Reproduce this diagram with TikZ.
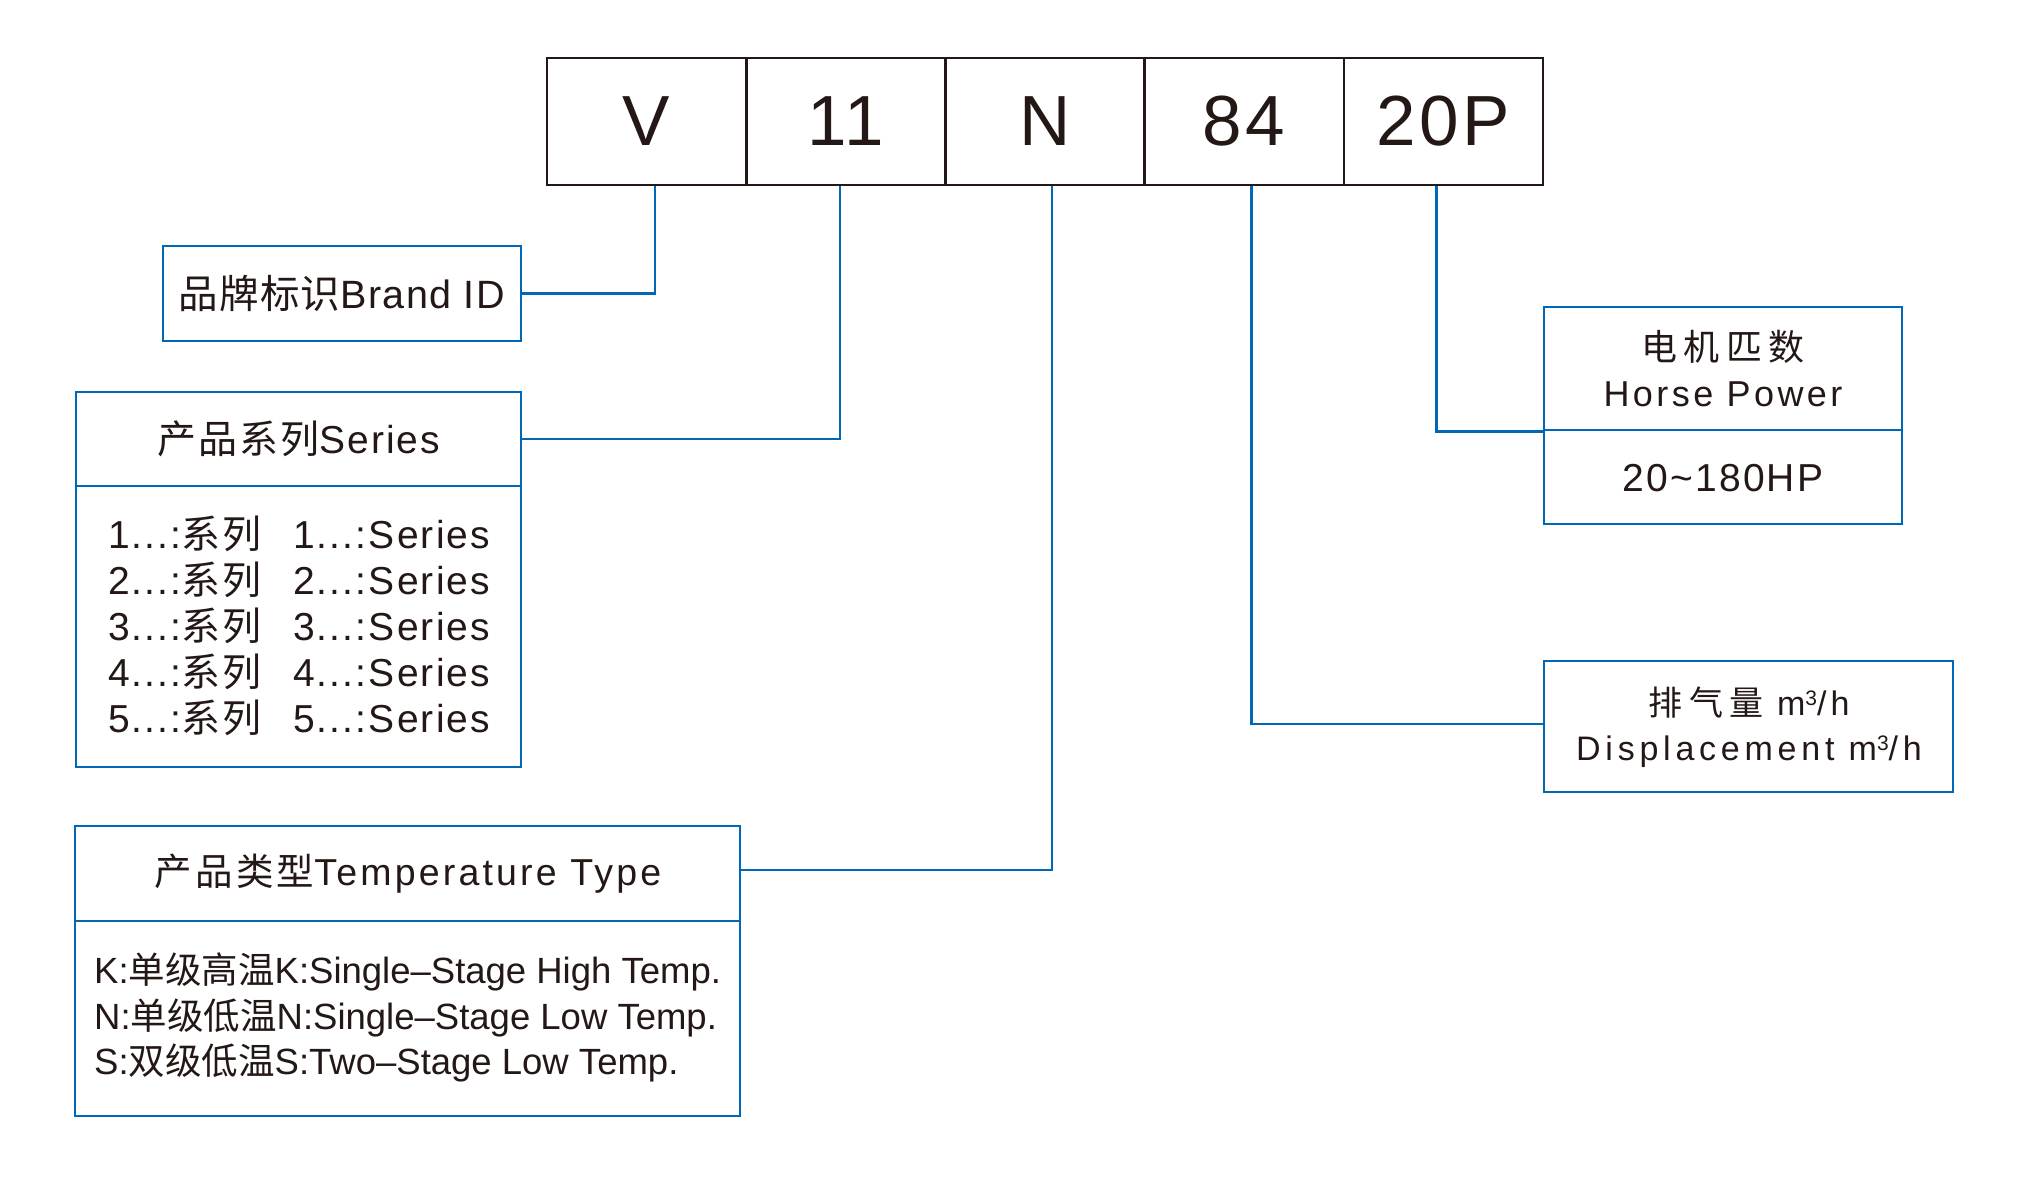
\documentclass[tikz,border=0pt]{standalone}
\usepackage{fontspec}
\setmainfont{Liberation Sans}
\newfontfamily\cjk{Noto Sans CJK SC}
\definecolor{lineblue}{RGB}{0,104,183}
\definecolor{ink}{RGB}{35,24,21}
\newcommand\fsz[1]{\fontsize{#1}{#1}\selectfont}
\newcommand\lsp[1]{\addfontfeatures{LetterSpace=#1}}
\newcommand\zh[2]{{\cjk\lsp{#1}#2}}
\newcommand\cubed{\raisebox{10pt}{\fsz{21}3}}
\begin{document}
\begin{tikzpicture}[x=1pt,y=-1pt,
  codebox/.style={draw=ink, line width=2.6pt, minimum width=199.2pt, minimum height=127pt, inner sep=0pt, text=ink, font=\fsz{71}\lsp{5}},
  bluebox/.style={draw=lineblue, line width=2.6pt, inner sep=0pt},
  conn/.style={draw=lineblue, line width=2.6pt},
  txt/.style={text=ink, inner sep=0pt, anchor=base},
  txtl/.style={text=ink, inner sep=0pt, anchor=base west},
]
\useasboundingbox (0,0) rectangle (2042,1180);

% code boxes
\node[codebox] (cV)  at (646.6,121.5)  {V};
\node[codebox] (c11) at (845.8,121.5)  {11};
\node[codebox] (cN)  at (1045.0,121.5) {N};
\node[codebox] (c84) at (1244.2,121.5) {84};
\node[codebox] (c20) at (1443.4,121.5) {20P};

% brand
\node[bluebox, minimum width=358pt, minimum height=95pt] (brand) at (342,293.5) {};
\node[txt] (brandtxt) at (341.5,308) {\fsz{39.5}\lsp{3.5}\zh{3.5}{品牌标识}Brand ID};

% series
\node[bluebox, minimum width=445pt, minimum height=94pt] (serhead) at (298.5,439) {};
\node[bluebox, minimum width=445pt, minimum height=281pt] (serbody) at (298.5,626.5) {};
\node[txt] (sertxt) at (299,453) {\fsz{39}\lsp{5}\zh{5}{产品系列}Series};
\node[txtl] (s1a) at (108,548) {\fsz{39}\lsp{5}1...:\zh{6}{系列}};
\node[txtl] (s1b) at (293,548) {\fsz{39}\lsp{5.5}1...:Series};
\node[txtl] (s2a) at (108,594) {\fsz{39}\lsp{5}2...:\zh{6}{系列}};
\node[txtl] (s2b) at (293,594) {\fsz{39}\lsp{5.5}2...:Series};
\node[txtl] (s3a) at (108,640) {\fsz{39}\lsp{5}3...:\zh{6}{系列}};
\node[txtl] (s3b) at (293,640) {\fsz{39}\lsp{5.5}3...:Series};
\node[txtl] (s4a) at (108,686) {\fsz{39}\lsp{5}4...:\zh{6}{系列}};
\node[txtl] (s4b) at (293,686) {\fsz{39}\lsp{5.5}4...:Series};
\node[txtl] (s5a) at (108,732) {\fsz{39}\lsp{5}5...:\zh{6}{系列}};
\node[txtl] (s5b) at (293,732) {\fsz{39}\lsp{5.5}5...:Series};

% temperature type
\node[bluebox, minimum width=665pt, minimum height=95pt] (temphead) at (407.5,873.5) {};
\node[bluebox, minimum width=665pt, minimum height=195pt] (tempbody) at (407.5,1018.5) {};
\node[txt] (temptxt) at (408,885) {\fsz{37.5}\lsp{8.5}\zh{8.5}{产品类型}Temperature Type};
\node[txtl] (t1) at (94,983)  {\fsz{36.5}K:\zh{0}{单级高温}K:Single–Stage High Temp.};
\node[txtl] (t2) at (94,1029) {\fsz{36.5}N:\zh{0}{单级低温}N:Single–Stage Low Temp.};
\node[txtl] (t3) at (94,1074) {\fsz{36.5}S:\zh{0}{双级低温}S:Two–Stage Low Temp.};

% horse power
\node[bluebox, minimum width=358pt, minimum height=123pt] (hphead) at (1723,368.5) {};
\node[bluebox, minimum width=358pt, minimum height=94pt] (hpbody) at (1723,477) {};
\node[txt] (hp1) at (1723,360) {\fsz{36}\zh{17}{电机匹数}};
\node[txt] (hp2) at (1723,406) {\fsz{36}\lsp{9.5}Horse Power};
\node[txt] (hp3) at (1723,491) {\fsz{39}\lsp{5.5}20\textasciitilde180HP};

% displacement
\node[bluebox, minimum width=409pt, minimum height=131pt] (disp) at (1748.5,726.5) {};
\node[txt] (d1) at (1749,715) {\fsz{34}\lsp{12}\zh{19}{排气量} m\cubed/h};
\node[txt] (d2) at (1749,760) {\fsz{34}\lsp{14}Displacement m\cubed/h};

% connectors
\draw[conn] ([xshift=8.4pt]cV.south) |- (brand.east);
\draw[conn] ([xshift=-5.8pt]c11.south) |- (serhead.east);
\draw[conn] ([xshift=7pt]cN.south) |- ([yshift=3.5pt]temphead.east);
\draw[conn] ([xshift=7.3pt]c84.south) |- ([yshift=2.5pt]disp.west);
\draw[conn] ([xshift=-6.9pt]c20.south) |- (hphead.south west);
\end{tikzpicture}
\end{document}
